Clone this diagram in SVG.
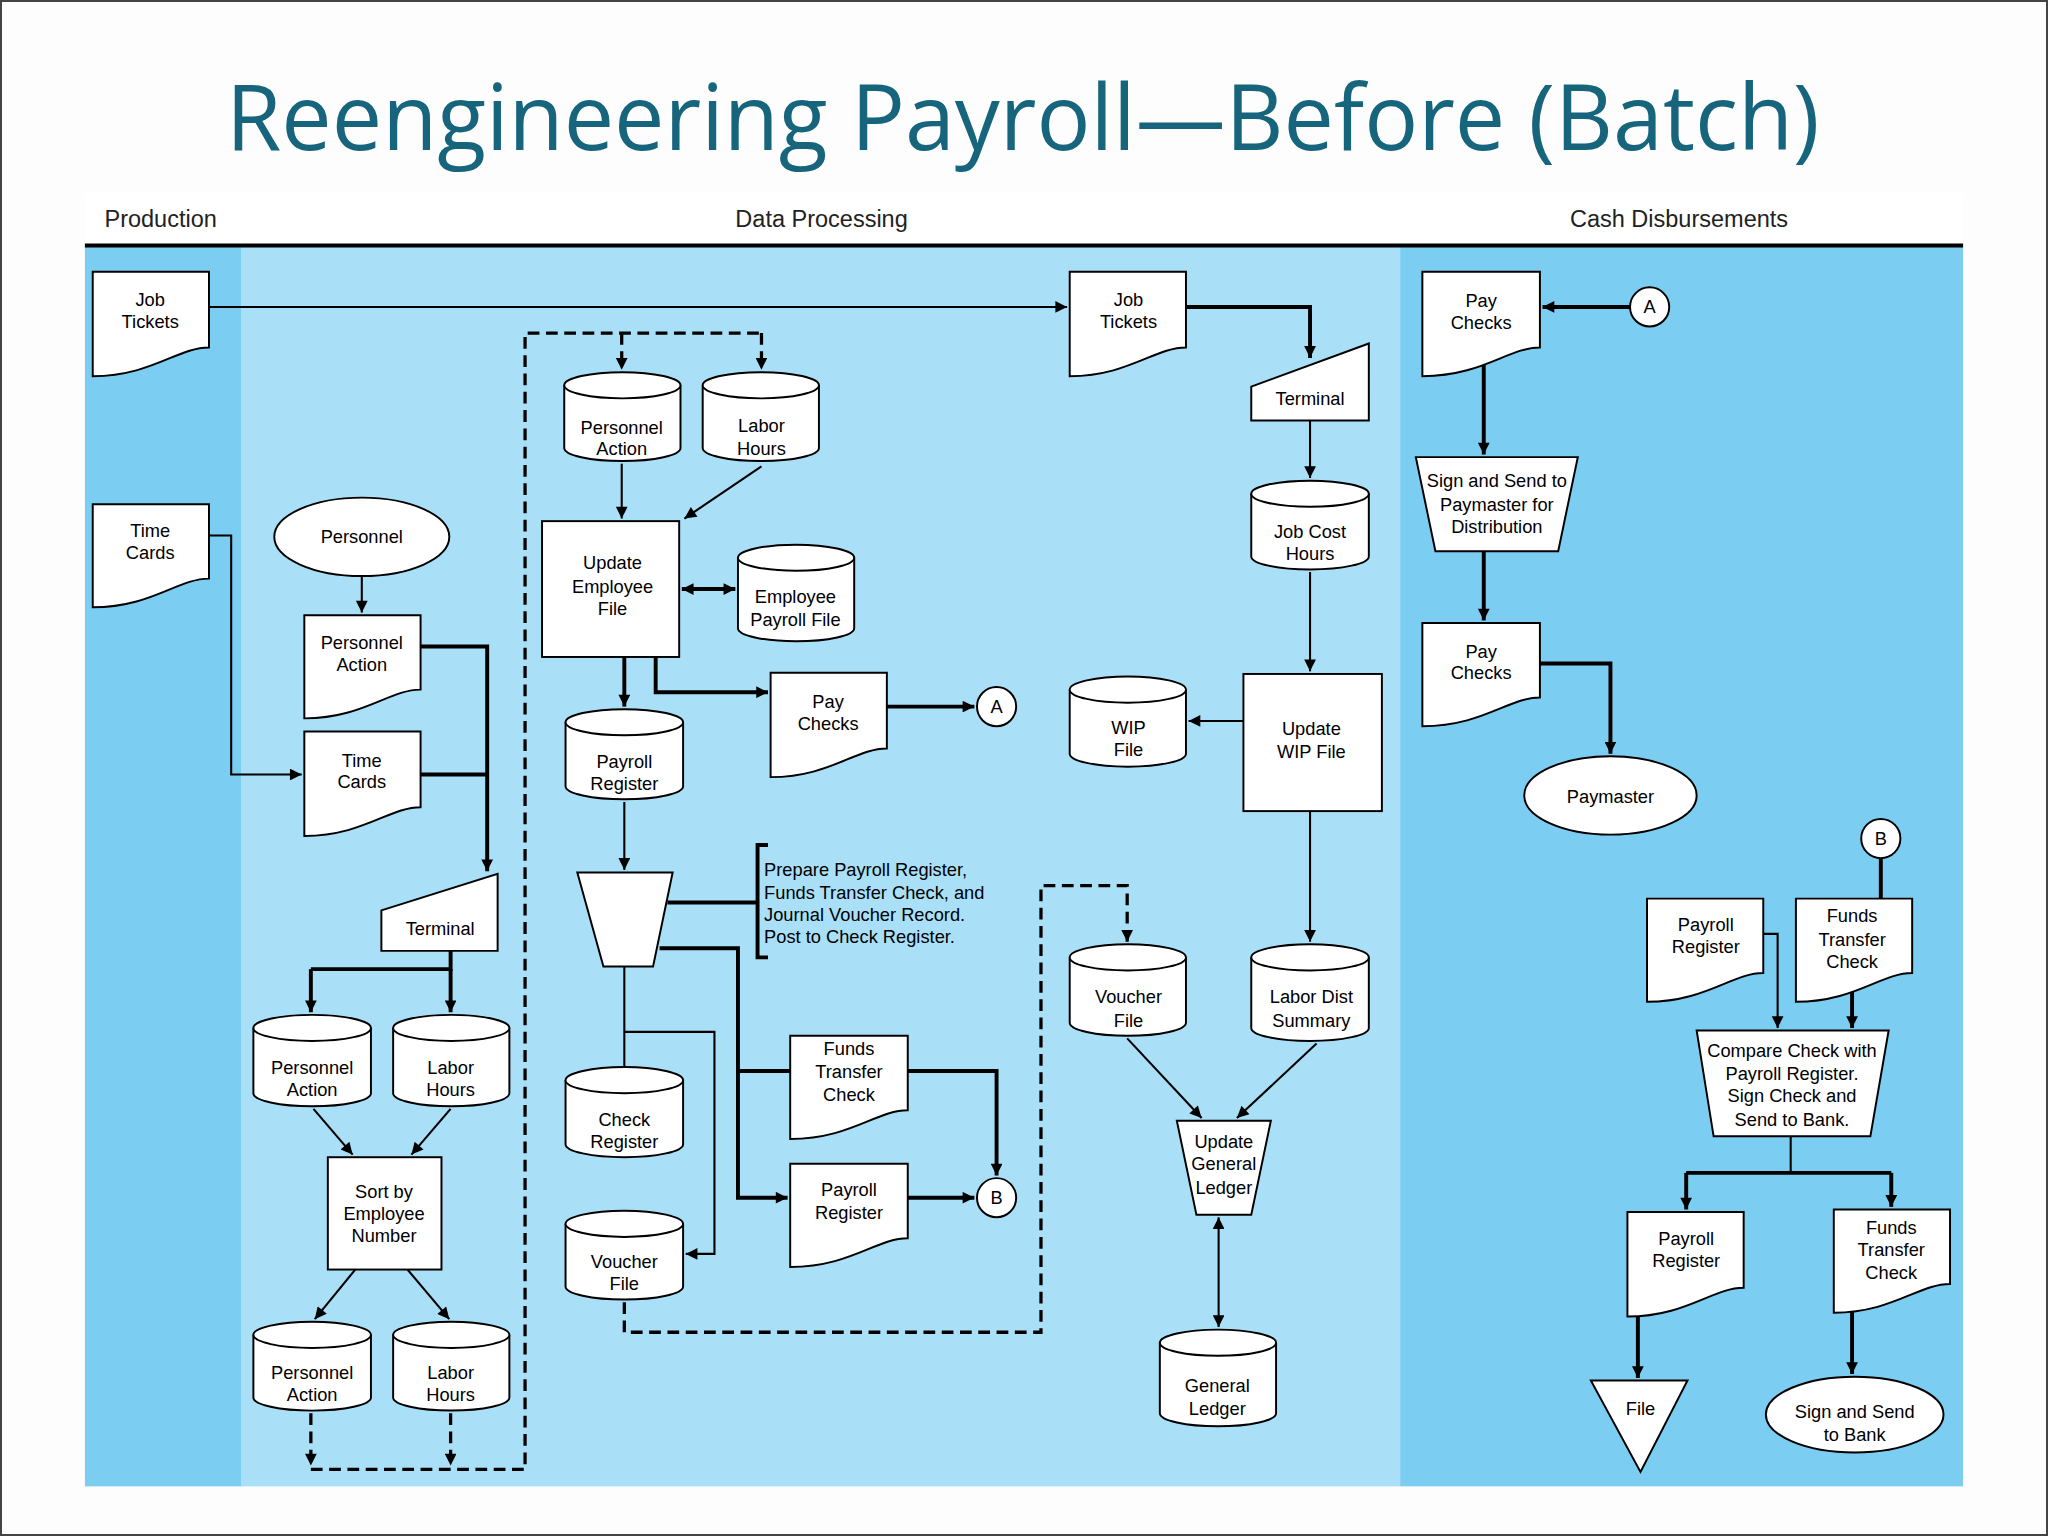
<svg xmlns="http://www.w3.org/2000/svg" width="2048" height="1536" viewBox="0 0 2048 1536">
<defs>
<style>
.s{fill:#fff;stroke:#000;stroke-width:1.5}
.t{font-family:"Liberation Sans",Arial,sans-serif;font-size:14px;text-anchor:middle;fill:#000}
.tl{font-family:"Liberation Sans",Arial,sans-serif;font-size:14px;fill:#000}
.h{font-family:"Liberation Sans",Arial,sans-serif;font-size:18px;fill:#222}
.l{fill:none;stroke:#000;stroke-width:1.6}
.k{fill:none;stroke:#000;stroke-width:3}
.d{fill:none;stroke:#000;stroke-width:2.5;stroke-dasharray:9,5}
</style>
<marker id="a" viewBox="0 0 10 10" refX="10" refY="5" markerWidth="11" markerHeight="9" markerUnits="userSpaceOnUse" orient="auto-start-reverse"><path d="M0,0 L10,5 L0,10 Z" fill="#000"/></marker>
</defs>
<rect width="2048" height="1536" fill="#fdfdfd"/>
<rect x="1" y="1" width="2046" height="1534" fill="none" stroke="#444" stroke-width="2"/>
<g transform="scale(1.30612)">
<text x="783" y="115" font-family="'Open Sans','Liberation Sans',sans-serif" font-size="70" fill="#17657d" text-anchor="middle" textLength="1220" lengthAdjust="spacingAndGlyphs">Reengineering Payroll—Before (Batch)</text>
<g id="lanes">
<rect x="65" y="148" width="1438" height="40" fill="#fff"/>
<rect x="65" y="188" width="120" height="950" fill="#7ccdf2"/>
<rect x="185" y="188" width="887" height="950" fill="#a9e0f8"/>
<rect x="1072" y="188" width="431" height="950" fill="#7ccdf2"/>
<line x1="65" y1="188" x2="1503" y2="188" stroke="#000" stroke-width="3"/>
<text class="h" x="80" y="174">Production</text>
<text class="h" x="563" y="174">Data Processing</text>
<text class="h" x="1202" y="174">Cash Disbursements</text>
</g>
<g id="connectors">
<path class="l" d="M160,235 H817" marker-end="url(#a)"/>
<path class="l" d="M160,410 H177 V593 H231" marker-end="url(#a)"/>
<path class="l" d="M277,441 V469" marker-end="url(#a)"/>
<path class="k" d="M322,495 H373 V667" marker-end="url(#a)"/>
<path class="k" d="M322,593 H373"/>
<path class="k" d="M345,728 V742 H238"/>
<path class="k" d="M238,742 V775" marker-end="url(#a)"/>
<path class="k" d="M345,742 V775" marker-end="url(#a)"/>
<path class="l" d="M240,849 L270,884" marker-end="url(#a)"/>
<path class="l" d="M345,849 L315,884" marker-end="url(#a)"/>
<path class="l" d="M272,972 L241,1010" marker-end="url(#a)"/>
<path class="l" d="M312,972 L344,1010" marker-end="url(#a)"/>
<path class="d" d="M238,1082 V1122" marker-end="url(#a)"/>
<path class="d" d="M345,1082 V1122" marker-end="url(#a)"/>
<path class="d" d="M238,1125 H402 V255 H583"/>
<path class="d" d="M476,255 V283" marker-end="url(#a)"/>
<path class="d" d="M583,255 V283" marker-end="url(#a)"/>
<path class="l" d="M476,355 V397" marker-end="url(#a)"/>
<path class="l" d="M583,357 L524,397" marker-end="url(#a)"/>
<path class="k" d="M522,451 H563" marker-start="url(#a)" marker-end="url(#a)"/>
<path class="k" d="M502,503 V530 H588" marker-end="url(#a)"/>
<path class="k" d="M478,503 V541" marker-end="url(#a)"/>
<path class="k" d="M679,541 H746" marker-end="url(#a)"/>
<path class="l" d="M478,614 V666" marker-end="url(#a)"/>
<path class="k" d="M511,691 H580"/>
<path class="k" d="M588,647 H580 V733 H588"/>
<path class="k" d="M505,726 H565 V917 H603" marker-end="url(#a)"/>
<path class="k" d="M565,820 H605"/>
<path class="k" d="M695,820 H763 V900" marker-end="url(#a)"/>
<path class="k" d="M695,917 H746" marker-end="url(#a)"/>
<path class="l" d="M478,740 V817"/>
<path class="l" d="M478,790 H547 V960 H525" marker-end="url(#a)"/>
<path class="d" d="M478,997 V1020 H797 V678 H863 V721" marker-end="url(#a)"/>
<path class="k" d="M908,235 H1003 V274" marker-end="url(#a)"/>
<path class="l" d="M1003,322 V366" marker-end="url(#a)"/>
<path class="l" d="M1003,438 V514" marker-end="url(#a)"/>
<path class="l" d="M952,552 H910" marker-end="url(#a)"/>
<path class="l" d="M1003,621 V721" marker-end="url(#a)"/>
<path class="l" d="M863,795 L920,856" marker-end="url(#a)"/>
<path class="l" d="M1008,799 L947,856" marker-end="url(#a)"/>
<path class="l" d="M933,932 V1016" marker-start="url(#a)" marker-end="url(#a)"/>
<path class="k" d="M1248,235 H1181" marker-end="url(#a)"/>
<path class="k" d="M1136,270 V348" marker-end="url(#a)"/>
<path class="k" d="M1136,422 V475" marker-end="url(#a)"/>
<path class="k" d="M1179,508 H1233 V577" marker-end="url(#a)"/>
<path class="k" d="M1440,657 V688"/>
<path class="l" d="M1350,715 H1361 V787" marker-end="url(#a)"/>
<path class="k" d="M1418,757 V787" marker-end="url(#a)"/>
<path class="l" d="M1371,870 V898"/>
<path class="k" d="M1291,898 H1448"/>
<path class="k" d="M1291,898 V926" marker-end="url(#a)"/>
<path class="k" d="M1448,898 V924" marker-end="url(#a)"/>
<path class="k" d="M1254,1002 V1055" marker-end="url(#a)"/>
<path class="k" d="M1418,998 V1052" marker-end="url(#a)"/>
</g>
<g id="jobtickets1"><path class="s" d="M71,208 H160 V266 C136,266 116,288 71,288 Z"/><text class="t" x="115" y="234">Job</text><text class="t" x="115" y="251">Tickets</text></g>
<g id="timecards1"><path class="s" d="M71,386 H160 V443 C136,443 116,465 71,465 Z"/><text class="t" x="115" y="411">Time</text><text class="t" x="115" y="428">Cards</text></g>
<g id="personnel"><ellipse class="s" cx="277" cy="411" rx="67" ry="30"/><text class="t" x="277" y="416">Personnel</text></g>
<g id="personnelaction-doc"><path class="s" d="M233,471 H322 V528 C298,528 278,550 233,550 Z"/><text class="t" x="277" y="497">Personnel</text><text class="t" x="277" y="514">Action</text></g>
<g id="timecards2"><path class="s" d="M233,560 H322 V618 C298,618 278,640 233,640 Z"/><text class="t" x="277" y="587">Time</text><text class="t" x="277" y="603">Cards</text></g>
<g id="terminal1"><path class="s" d="M292,697 L381,669 V728 H292 Z"/><text class="t" x="337" y="716">Terminal</text></g>
<g id="pa1"><path class="s" d="M194,787 V837 A45,10 0 0 0 284,837 V787"/><ellipse class="s" cx="239" cy="787" rx="45" ry="10"/><text class="t" x="239" y="822">Personnel</text><text class="t" x="239" y="839">Action</text></g>
<g id="lh1"><path class="s" d="M301,787 V837 A44.5,10 0 0 0 390,837 V787"/><ellipse class="s" cx="345.5" cy="787" rx="44.5" ry="10"/><text class="t" x="345" y="822">Labor</text><text class="t" x="345" y="839">Hours</text></g>
<g id="sort"><rect class="s" x="251" y="886" width="87" height="86"/><text class="t" x="294" y="917">Sort by</text><text class="t" x="294" y="934">Employee</text><text class="t" x="294" y="951">Number</text></g>
<g id="pa2"><path class="s" d="M194,1022 V1070 A45,10 0 0 0 284,1070 V1022"/><ellipse class="s" cx="239" cy="1022" rx="45" ry="10"/><text class="t" x="239" y="1056">Personnel</text><text class="t" x="239" y="1073">Action</text></g>
<g id="lh2"><path class="s" d="M301,1022 V1070 A44.5,10 0 0 0 390,1070 V1022"/><ellipse class="s" cx="345.5" cy="1022" rx="44.5" ry="10"/><text class="t" x="345" y="1056">Labor</text><text class="t" x="345" y="1073">Hours</text></g>
<g id="pa3"><path class="s" d="M432,295 V343 A44.5,10 0 0 0 521,343 V295"/><ellipse class="s" cx="476.5" cy="295" rx="44.5" ry="10"/><text class="t" x="476" y="332">Personnel</text><text class="t" x="476" y="348">Action</text></g>
<g id="lh3"><path class="s" d="M538,295 V343 A44.5,10 0 0 0 627,343 V295"/><ellipse class="s" cx="582.5" cy="295" rx="44.5" ry="10"/><text class="t" x="583" y="331">Labor</text><text class="t" x="583" y="348">Hours</text></g>
<g id="updateemp"><rect class="s" x="415" y="399" width="105" height="104"/><text class="t" x="469" y="436">Update</text><text class="t" x="469" y="454">Employee</text><text class="t" x="469" y="471">File</text></g>
<g id="emppayroll"><path class="s" d="M565,427 V481 A44.5,10 0 0 0 654,481 V427"/><ellipse class="s" cx="609.5" cy="427" rx="44.5" ry="10"/><text class="t" x="609" y="462">Employee</text><text class="t" x="609" y="479">Payroll File</text></g>
<g id="paychecks1"><path class="s" d="M590,515 H679 V573 C655,573 635,595 590,595 Z"/><text class="t" x="634" y="542">Pay</text><text class="t" x="634" y="559">Checks</text></g>
<g id="connA1"><circle class="s" cx="763" cy="541" r="15"/><text class="t" x="763" y="546">A</text></g>
<g id="payrollreg"><path class="s" d="M433,553 V602 A45,10 0 0 0 523,602 V553"/><ellipse class="s" cx="478" cy="553" rx="45" ry="10"/><text class="t" x="478" y="588">Payroll</text><text class="t" x="478" y="605">Register</text></g>
<g id="manualop"><path class="s" d="M442,668 H515 L500,740 H462 Z"/></g>
<g id="note"><text class="tl" x="585" y="671">Prepare Payroll Register,</text><text class="tl" x="585" y="688">Funds Transfer Check, and</text><text class="tl" x="585" y="705">Journal Voucher Record.</text><text class="tl" x="585" y="722">Post to Check Register.</text></g>
<g id="checkreg"><path class="s" d="M433,827 V876 A45,10 0 0 0 523,876 V827"/><ellipse class="s" cx="478" cy="827" rx="45" ry="10"/><text class="t" x="478" y="862">Check</text><text class="t" x="478" y="879">Register</text></g>
<g id="voucher1"><path class="s" d="M433,937 V985 A45,10 0 0 0 523,985 V937"/><ellipse class="s" cx="478" cy="937" rx="45" ry="10"/><text class="t" x="478" y="971">Voucher</text><text class="t" x="478" y="988">File</text></g>
<g id="ftc1"><path class="s" d="M605,793 H695 V850 C671,850 651,872 605,872 Z"/><text class="t" x="650" y="808">Funds</text><text class="t" x="650" y="825">Transfer</text><text class="t" x="650" y="843">Check</text></g>
<g id="prdoc1"><path class="s" d="M605,891 H695 V948 C671,948 651,970 605,970 Z"/><text class="t" x="650" y="916">Payroll</text><text class="t" x="650" y="933">Register</text></g>
<g id="connB1"><circle class="s" cx="763" cy="917" r="15"/><text class="t" x="763" y="922">B</text></g>
<g id="jobtickets2"><path class="s" d="M819,208 H908 V266 C884,266 864,288 819,288 Z"/><text class="t" x="864" y="234">Job</text><text class="t" x="864" y="251">Tickets</text></g>
<g id="terminal2"><path class="s" d="M958,296 L1048,263 V322 H958 Z"/><text class="t" x="1003" y="310">Terminal</text></g>
<g id="jobcost"><path class="s" d="M958,378 V426 A45,10 0 0 0 1048,426 V378"/><ellipse class="s" cx="1003" cy="378" rx="45" ry="10"/><text class="t" x="1003" y="412">Job Cost</text><text class="t" x="1003" y="429">Hours</text></g>
<g id="updatewip"><rect class="s" x="952" y="516" width="106" height="105"/><text class="t" x="1004" y="563">Update</text><text class="t" x="1004" y="580">WIP File</text></g>
<g id="wipfile"><path class="s" d="M819,528 V577 A44.5,10 0 0 0 908,577 V528"/><ellipse class="s" cx="863.5" cy="528" rx="44.5" ry="10"/><text class="t" x="864" y="562">WIP</text><text class="t" x="864" y="579">File</text></g>
<g id="voucher2"><path class="s" d="M819,733 V783 A44.5,10 0 0 0 908,783 V733"/><ellipse class="s" cx="863.5" cy="733" rx="44.5" ry="10"/><text class="t" x="864" y="768">Voucher</text><text class="t" x="864" y="786">File</text></g>
<g id="labordist"><path class="s" d="M958,733 V787 A45,10 0 0 0 1048,787 V733"/><ellipse class="s" cx="1003" cy="733" rx="45" ry="10"/><text class="t" x="1004" y="768">Labor Dist</text><text class="t" x="1004" y="786">Summary</text></g>
<g id="updategl"><path class="s" d="M901,858 H973 L958,930 H916 Z"/><text class="t" x="937" y="879">Update</text><text class="t" x="937" y="896">General</text><text class="t" x="937" y="914">Ledger</text></g>
<g id="genledger"><path class="s" d="M888,1028 V1082 A44.5,10 0 0 0 977,1082 V1028"/><ellipse class="s" cx="932.5" cy="1028" rx="44.5" ry="10"/><text class="t" x="932" y="1066">General</text><text class="t" x="932" y="1083">Ledger</text></g>
<g id="paychecks2"><path class="s" d="M1089,208 H1179 V266 C1155,266 1135,288 1089,288 Z"/><text class="t" x="1134" y="235">Pay</text><text class="t" x="1134" y="252">Checks</text></g>
<g id="connA2"><circle class="s" cx="1263" cy="235" r="15"/><text class="t" x="1263" y="240">A</text></g>
<g id="signsend"><path class="s" d="M1084,350 H1208 L1193,422 H1099 Z"/><text class="t" x="1146" y="373">Sign and Send to</text><text class="t" x="1146" y="391">Paymaster for</text><text class="t" x="1146" y="408">Distribution</text></g>
<g id="paychecks3"><path class="s" d="M1089,477 H1179 V534 C1155,534 1135,556 1089,556 Z"/><text class="t" x="1134" y="504">Pay</text><text class="t" x="1134" y="520">Checks</text></g>
<g id="paymaster"><ellipse class="s" cx="1233" cy="609" rx="66" ry="30"/><text class="t" x="1233" y="615">Paymaster</text></g>
<g id="connB2"><circle class="s" cx="1440" cy="642" r="15"/><text class="t" x="1440" y="647">B</text></g>
<g id="prdoc2"><path class="s" d="M1261,688 H1350 V745 C1326,745 1306,767 1261,767 Z"/><text class="t" x="1306" y="713">Payroll</text><text class="t" x="1306" y="730">Register</text></g>
<g id="ftc2"><path class="s" d="M1375,688 H1464 V745 C1440,745 1420,767 1375,767 Z"/><text class="t" x="1418" y="706">Funds</text><text class="t" x="1418" y="724">Transfer</text><text class="t" x="1418" y="741">Check</text></g>
<g id="compare"><path class="s" d="M1299,789 H1446 L1432,870 H1312 Z"/><text class="t" x="1372" y="809">Compare Check with</text><text class="t" x="1372" y="827">Payroll Register.</text><text class="t" x="1372" y="844">Sign Check and</text><text class="t" x="1372" y="862">Send to Bank.</text></g>
<g id="prdoc3"><path class="s" d="M1246,928 H1335 V986 C1311,986 1291,1008 1246,1008 Z"/><text class="t" x="1291" y="953">Payroll</text><text class="t" x="1291" y="970">Register</text></g>
<g id="ftc3"><path class="s" d="M1404,926 H1493 V983 C1469,983 1449,1005 1404,1005 Z"/><text class="t" x="1448" y="945">Funds</text><text class="t" x="1448" y="962">Transfer</text><text class="t" x="1448" y="979">Check</text></g>
<g id="file"><path class="s" d="M1218,1057 H1292 L1256,1127 Z"/><text class="t" x="1256" y="1083">File</text></g>
<g id="signbank"><ellipse class="s" cx="1420" cy="1083" rx="68" ry="29"/><text class="t" x="1420" y="1086">Sign and Send</text><text class="t" x="1420" y="1103">to Bank</text></g>
</g>
</svg>
